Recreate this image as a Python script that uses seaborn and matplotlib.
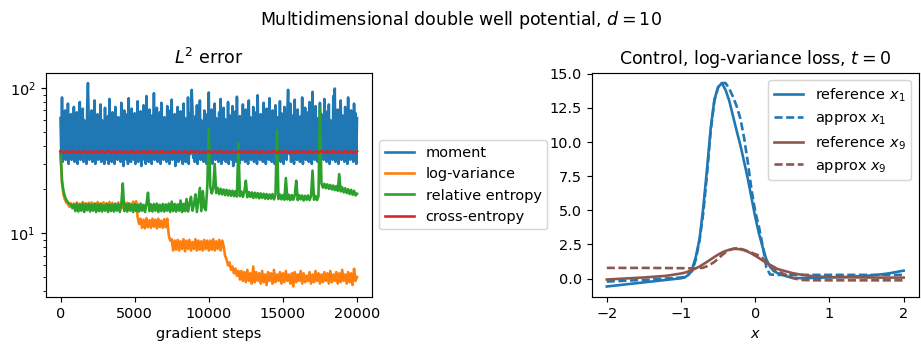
import numpy as np
import pandas as pd
import matplotlib
matplotlib.use("Agg")
import matplotlib.pyplot as plt
import seaborn as sns

# ---------------- left panel data (L2 error vs gradient steps) ----------------
step_moment = 50
step_fine = 100
step_red = 200

moment = [
62, 34, 86, 31, 55, 35, 70, 32, 48, 33, 78, 30, 52, 34, 66, 32, 57, 36, 74, 31,
50, 33, 68, 30, 58, 35, 80, 32, 47, 34, 72, 31, 60, 33, 54, 30, 75, 108, 62, 32,
56, 34, 70, 31, 49, 33, 82, 30, 58, 36, 66, 32, 53, 34, 77, 31, 60, 33, 50, 30,
73, 35, 57, 32, 64, 30, 84, 34, 52, 31, 68, 33, 59, 30, 74, 35, 48, 32, 63, 34,
55, 31, 79, 33, 61, 29, 70, 34, 51, 32, 66, 30, 85, 33, 56, 31, 72, 35, 49, 32,
67, 30, 58, 34, 81, 31, 53, 33, 69, 29, 62, 35, 76, 32, 50, 30, 88, 34, 57, 31,
71, 33, 54, 30, 65, 35, 92, 32, 59, 34, 73, 31, 48, 33, 68, 30, 79, 35, 55, 32,
63, 34, 50, 31, 75, 33, 58, 30, 70, 35, 83, 32, 52, 34, 66, 29, 60, 33, 74, 31,
56, 35, 69, 32, 49, 30, 78, 34, 62, 31, 54, 33, 86, 30, 67, 35, 58, 97, 72, 33,
51, 31, 64, 34, 76, 30, 57, 33, 82, 32, 60, 35, 48, 31, 70, 34, 55, 30, 66, 33,
93, 31, 59, 34, 71, 30, 53, 35, 78, 32, 62, 33, 49, 31, 68, 34, 84, 30, 56, 32,
73, 35, 61, 31, 50, 33, 80, 30, 65, 34, 57, 32, 75, 29, 52, 35, 69, 31, 87, 33,
58, 30, 64, 34, 48, 32, 77, 35, 60, 31, 71, 33, 55, 30, 82, 34, 63, 32, 51, 35,
74, 31, 57, 33, 68, 30, 89, 34, 53, 32, 66, 35, 59, 31, 79, 33, 50, 30, 72, 34,
61, 32, 85, 35, 56, 31, 70, 33, 48, 30, 76, 34, 63, 32, 54, 35, 81, 31, 67, 33,
52, 30, 74, 34, 60, 32, 69, 97, 55, 35, 78, 31, 49, 33, 65, 30, 83, 34, 58, 32,
71, 35, 53, 31, 64, 33, 86, 30, 57, 34, 73, 32, 50, 35, 68, 31, 80, 33, 61, 30,
94, 34, 56, 32, 75, 35, 62, 31, 51, 33, 79, 30, 66, 34, 58, 32, 84, 35, 54, 31,
69, 33, 77, 30, 60, 34, 52, 32, 88, 35, 99, 31, 63, 33, 71, 30, 56, 34, 82, 32,
65, 35, 50, 31, 74, 33, 59, 30, 86, 34, 62, 32, 70, 35, 55, 31, 78, 33, 67, 30,
62]

log_variance = [
36, 22, 18.4, 17.0, 16.2, 15.9, 15.2, 16.1, 14.8, 16.0, 14.7, 16.3, 14.9, 16.0, 14.6, 16.4, 14.8, 16.1, 14.7, 16.2,
14.9, 16.3, 14.6, 16.0, 14.8, 16.4, 14.7, 16.1, 14.9, 16.3, 14.6, 16.0, 14.8, 16.4, 14.7, 16.2, 14.9, 16.0, 14.6, 16.3,
14.8, 16.1, 14.9, 16.4, 14.6, 16.2, 14.8, 16.0, 14.7, 16.5, 15.0, 16.6, 12.9, 11.6, 12.6, 10.9, 12.4, 10.8, 12.7, 11.0,
12.3, 10.9, 12.6, 11.1, 12.4, 10.8, 12.6, 11.0, 12.2, 10.9, 12.5, 11.0, 12.6, 9.7, 8.9, 9.1, 7.6, 8.9, 7.7, 9.0,
7.6, 8.8, 7.8, 9.1, 7.5, 8.9, 7.8, 9.0, 7.6, 8.7, 7.8, 9.1, 7.6, 8.9, 7.7, 8.8, 7.6, 9.0, 7.8, 8.9,
7.6, 8.9, 7.7, 9.1, 7.6, 8.8, 7.8, 9.0, 7.6, 8.9, 8.2, 7.0, 6.6, 6.0, 6.3, 5.6, 5.9, 5.3, 5.7, 5.1,
5.5, 4.8, 5.5, 4.7, 5.4, 4.6, 5.6, 4.7, 5.3, 4.5, 5.9, 4.6, 5.4, 4.7, 5.3, 4.5, 5.5, 4.6, 5.2, 4.4,
5.4, 4.7, 5.3, 4.5, 5.6, 4.6, 5.2, 4.7, 5.4, 4.5, 5.3, 4.6, 5.5, 4.7, 5.2, 4.5, 5.3, 4.3, 5.4, 4.6,
5.2, 4.7, 5.5, 4.5, 5.3, 4.6, 5.1, 4.7, 5.4, 4.5, 5.2, 4.6, 5.5, 4.7, 5.3, 4.5, 5.2, 4.6, 5.4, 4.7,
5.3, 4.5, 5.5, 4.6, 5.2, 4.7, 5.4, 4.5, 5.3, 4.6, 5.6, 4.7, 5.2, 4.5, 5.4, 4.6, 5.3, 4.4, 5.7, 4.7,
5.0]

relative_entropy = [
36, 23, 19.5, 17.8, 16.9, 16.3, 15.9, 15.6, 15.0, 15.8, 14.2, 15.9, 14.1, 15.7, 14.3, 16.0, 14.0, 15.8, 14.4, 15.9,
14.1, 15.7, 14.3, 16.0, 14.0, 15.8, 14.2, 15.9, 14.1, 15.6, 14.3, 16.0, 14.0, 15.8, 14.2, 15.7, 14.1, 15.9, 14.3, 15.8,
14.0, 15.9, 22.0, 14.2, 15.8, 14.1, 16.0, 14.3, 15.7, 14.0, 15.9, 14.2, 15.8, 14.1, 16.0, 14.3, 15.7, 14.0, 15.9, 19.0,
14.2, 15.8, 14.1, 15.9, 14.3, 16.0, 14.0, 15.7, 14.2, 15.9, 14.1, 15.8, 14.3, 16.0, 14.0, 16.5, 14.2, 15.9, 14.1, 15.8,
14.3, 16.8, 14.0, 15.9, 14.2, 17.2, 14.1, 16.0, 17.8, 14.3, 15.8, 18.5, 14.0, 16.9, 20.5, 14.2, 19.5, 15.0, 14.4, 21.0,
52, 21.0, 18.8, 20.4, 30, 18.9, 20.5, 18.6, 20.2, 18.5, 20.0, 18.3, 19.9, 18.2, 19.7, 18.1, 19.6, 18.0, 19.5, 17.9,
42, 18.0, 19.4, 17.8, 19.3, 23.0, 17.7, 19.2, 17.8, 19.1, 17.5, 19.0, 17.6, 18.9, 17.4, 18.8, 17.5, 18.7, 17.3, 18.6,
17.2, 18.5, 17.3, 18.6, 17.1, 18.4, 51, 17.2, 18.5, 17.1, 18.3, 17.0, 24.0, 17.1, 18.4, 16.9, 18.3, 17.0, 18.2, 23.0,
16.9, 18.3, 17.1, 18.2, 16.8, 18.1, 17.0, 18.2, 16.9, 18.0, 27.0, 17.0, 18.1, 16.9, 18.0, 73, 22.0, 20.6, 21.9, 20.4,
21.7, 20.2, 21.5, 20.0, 21.3, 19.8, 21.1, 19.6, 25.5, 19.4, 20.7, 19.1, 20.4, 18.9, 20.1, 18.6, 19.9, 18.4, 19.6, 18.2,
18.7]

cross_entropy = [
36.8, 35.6, 36.7, 35.8, 37.0, 35.7, 36.6, 35.5, 36.8, 35.9,
36.6, 35.6, 36.9, 35.8, 36.7, 35.7, 37.0, 35.9, 36.6, 35.6,
36.8, 35.7, 36.5, 35.8, 36.9, 35.6, 36.7, 35.9, 36.6, 35.5,
37.0, 35.8, 36.7, 35.7, 36.8, 35.9, 36.5, 35.6, 36.9, 35.8,
36.6, 35.7, 36.8, 35.6, 36.7, 35.9, 37.0, 35.7, 36.5, 35.8,
36.8, 35.6, 36.6, 35.9, 36.9, 35.7, 36.7, 35.8, 36.5, 35.6,
36.8, 35.9, 36.6, 35.7, 37.0, 35.8, 36.7, 35.6, 36.8, 35.9,
36.5, 35.7, 36.9, 35.8, 36.6, 35.6, 36.8, 35.9, 36.7, 35.7,
37.0, 35.8, 36.5, 35.6, 36.8, 35.9, 36.6, 35.7, 36.9, 35.8,
36.7, 35.6, 36.8, 35.9, 36.5, 35.7, 37.0, 35.8, 36.6, 35.6,
36.7]

method_names = ["moment", "log-variance", "relative entropy", "cross-entropy"]
method_colors = ["#1f77b4", "#ff7f0e", "#2ca02c", "#d62728"]
method_series = [moment, log_variance, relative_entropy, cross_entropy]
method_steps = [step_moment, step_fine, step_fine, step_red]

# ---------------- right panel data (control at t = 0) ----------------
x_grid = [-2.0, -1.5, -1.2, -1.0, -0.95, -0.9, -0.85, -0.8, -0.75, -0.7, -0.65, -0.6,
          -0.55, -0.5, -0.45, -0.4, -0.35, -0.3, -0.25, -0.2, -0.15, -0.1, -0.05, 0.0,
          0.05, 0.1, 0.15, 0.2, 0.25, 0.3, 0.4, 0.5, 0.6, 0.7, 0.8, 1.0, 1.2, 1.4,
          1.6, 1.8, 2.0]

ref_x1 = [-0.58, -0.28, -0.10, 0.02, 0.08, 0.27, 0.7, 1.6, 2.9, 5.2, 8.0, 11.0,
          13.1, 14.0, 14.3, 13.8, 13.0, 11.9, 10.8, 9.75, 8.55, 7.3, 5.9, 4.5,
          3.3, 2.3, 1.4, 0.85, 0.55, 0.4, 0.2, 0.05, 0.03, 0.03, 0.05, 0.08, 0.12, 0.17,
          0.24, 0.38, 0.58]
approx_x1 = [-0.22, -0.10, 0.0, 0.08, 0.12, 0.3, 0.55, 1.4, 2.8, 4.8, 7.6, 10.8,
             13.0, 14.0, 14.3, 14.3, 13.9, 13.3, 12.6, 11.7, 10.3, 8.5, 6.5, 4.9,
             3.8, 2.4, 0.8, 0.3, 0.28, 0.27, 0.27, 0.27, 0.27, 0.27, 0.27, 0.27, 0.27, 0.27,
             0.27, 0.27, 0.27]
ref_x9 = [-0.07, 0.08, 0.2, 0.37, 0.43, 0.52, 0.62, 0.75, 0.88, 1.05, 1.22, 1.4,
          1.58, 1.75, 1.9, 2.02, 2.1, 2.16, 2.17, 2.14, 2.07, 1.97, 1.83, 1.67,
          1.5, 1.32, 1.15, 1.0, 0.86, 0.7, 0.55, 0.4, 0.3, 0.22, 0.16, 0.11, 0.09, 0.08,
          0.07, 0.07, 0.07]
approx_x9 = [0.78, 0.78, 0.77, 0.76, 0.76, 0.75, 0.75, 0.75, 0.76, 0.8, 0.9, 1.05,
             1.22, 1.45, 1.7, 1.92, 2.08, 2.18, 2.22, 2.18, 2.1, 2.0, 1.9, 1.78,
             1.68, 1.5, 1.2, 0.95, 0.72, 0.55, 0.3, 0.05, -0.09, -0.12, -0.13, -0.13, -0.13, -0.13,
             -0.13, -0.13, -0.13]

curve_labels = ["reference $x_1$", "approx $x_1$", "reference $x_9$", "approx $x_9$"]
curve_colors = ["#1f77b4", "#1f77b4", "#8c564b", "#8c564b"]
curve_dashed = [False, True, False, True]

# ---------------- build tables ----------------
frames = []
for name, vals, sp in zip(method_names, method_series, method_steps):
    frames.append(pd.DataFrame({"step": np.arange(len(vals)) * sp,
                                "error": vals, "method": name}))
df_left = pd.concat(frames, ignore_index=True)

# ---------------- figure ----------------
LW = 1.8
DPI = 104.5
fig = plt.figure(figsize=(921.3 / DPI, 345.3 / DPI), dpi=DPI)
ax1 = fig.add_axes([0.0496, 0.140, 0.354, 0.648])
ax2 = fig.add_axes([0.6425, 0.140, 0.3545, 0.648])

sns.lineplot(data=df_left, x="step", y="error", hue="method",
             hue_order=method_names, palette=method_colors,
             estimator=None, sort=False, linewidth=LW, ax=ax1)
ax1.set_yscale("log")
ax1.set_xlabel("gradient steps")
ax1.set_ylabel("")
ax1.set_title("$L^2$ error", fontsize=12)
sns.move_legend(ax1, "center left", bbox_to_anchor=(1.0, 0.5), title=None,
                frameon=True)

for vals, lab, col, dashed in zip([ref_x1, approx_x1, ref_x9, approx_x9],
                                  curve_labels, curve_colors, curve_dashed):
    kw = dict(linestyle=(0, (3.1, 1.35))) if dashed else dict(linestyle="-")
    sns.lineplot(x=x_grid, y=vals, color=col, linewidth=LW,
                 label=lab, ax=ax2, estimator=None, sort=False, **kw)
ax2.set_xlabel("$x$")
ax2.set_ylabel("")
ax2.set_title("Control, log-variance loss, $t = 0$", fontsize=12)
ax2.set_xticks([-2, -1, 0, 1, 2])
ax2.legend(loc="upper right")

fig.suptitle("Multidimensional double well potential, $d = 10$", fontsize=12, y=0.975)

fig.savefig("out.png", dpi=DPI)
